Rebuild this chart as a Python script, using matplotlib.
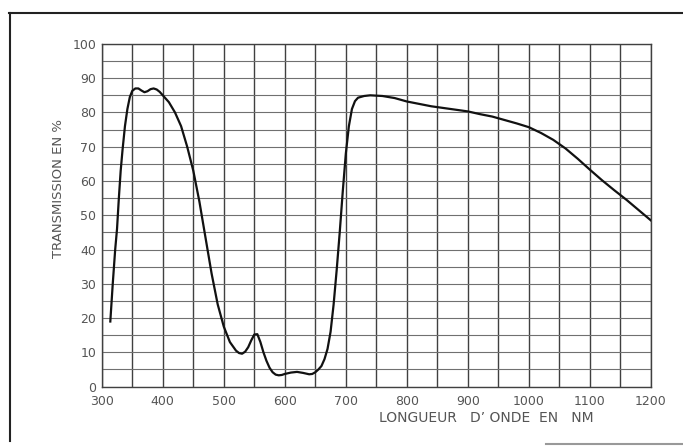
import matplotlib.pyplot as plt
from matplotlib.lines import Line2D

# courbe de transmission du filtre (longueur d'onde en nm, transmission en %)
longueur_onde = [314, 318, 322, 325, 328, 331, 334, 338, 342, 346, 350, 355, 360,
                 365, 370, 375, 380, 385, 390, 395, 400, 410, 420, 430, 440, 450,
                 460, 470, 480, 490, 500, 510, 520, 525, 530, 535, 540, 545, 550,
                 555, 560, 565, 570, 575, 580, 585, 590, 595, 600, 610, 620, 630,
                 640, 645, 650, 655, 660, 665, 670, 675, 680, 685, 690, 695, 700,
                 705, 710, 715, 720, 730, 740, 760, 780, 800, 820, 840, 860, 880,
                 900, 920, 940, 960, 980, 1000, 1020, 1040, 1060, 1080, 1100, 1120,
                 1140, 1160, 1180, 1200]
transmission = [19, 30, 40, 46, 55, 63, 69, 76, 81, 84.5, 86.3, 87, 87,
                86.4, 85.9, 86.2, 86.8, 87, 86.7, 86, 85, 83, 80, 76, 70, 63,
                54, 43.5, 33, 24, 17.5, 13, 10.5, 9.8, 9.6, 10.2, 11.5, 13.5, 15.2,
                15.3, 13, 10, 7.5, 5.5, 4.2, 3.5, 3.3, 3.4, 3.7, 4.1, 4.3, 4.0,
                3.6, 3.7, 4.2, 5, 6, 8, 11, 16, 24, 34, 45, 57, 68,
                76, 81, 83.3, 84.3, 84.8, 85, 84.8, 84.2, 83.2, 82.5, 81.8, 81.3, 80.8,
                80.3, 79.5, 78.8, 77.8, 76.8, 75.7, 74, 72, 69.5, 66.5, 63.3, 60.2,
                57.3, 54.5, 51.5, 48.5]

graduations_x = list(range(300, 1201, 100))
graduations_y = list(range(0, 101, 10))

fig = plt.figure(figsize=(6.83, 4.48), dpi=100)
fig.patch.set_facecolor('white')
ax = fig.add_axes([0.149, 0.137, 0.804, 0.765])

ax.plot(longueur_onde, transmission, color='#111111', linewidth=1.6, zorder=3)

ax.set_xlim(300, 1200)
ax.set_ylim(0, 100)
ax.set_xticks(graduations_x)
ax.set_yticks(graduations_y)
ax.set_xticks(range(350, 1200, 100), minor=True)
ax.set_yticks(range(5, 100, 10), minor=True)
# quadrillage : verticales plus foncees que les horizontales
ax.grid(which='both', axis='x', color='#404040', linewidth=1.0)
ax.grid(which='both', axis='y', color='#707070', linewidth=0.8)
ax.tick_params(which='both', length=0)
ax.tick_params(axis='x', pad=6, labelsize=9, labelcolor='#555555')
ax.tick_params(axis='y', pad=4, labelsize=9, labelcolor='#555555')
for s in ax.spines.values():
    s.set_color('#404040')
    s.set_linewidth(1.0)

ax.text(0.70, -0.092, "LONGUEUR   D\u2019 ONDE  EN   NM", transform=ax.transAxes,
        ha='center', va='center', fontsize=10, color='#555555')
ax.text(-0.079, 0.577, "TRANSMISSION EN %", transform=ax.transAxes, rotation=90,
        ha='center', va='center', fontsize=9.5, color='#555555')

# cadre autour de la figure
fig.add_artist(Line2D([0.015, 0.015], [0.015, 0.972], color='#222222', linewidth=1.5))
fig.add_artist(Line2D([0.013, 1.0], [0.972, 0.972], color='#222222', linewidth=1.5))
fig.add_artist(Line2D([0.8, 1.0], [0.008, 0.008], color='#999999', linewidth=1.5))

fig.savefig('out.png', dpi=100, facecolor='white')
